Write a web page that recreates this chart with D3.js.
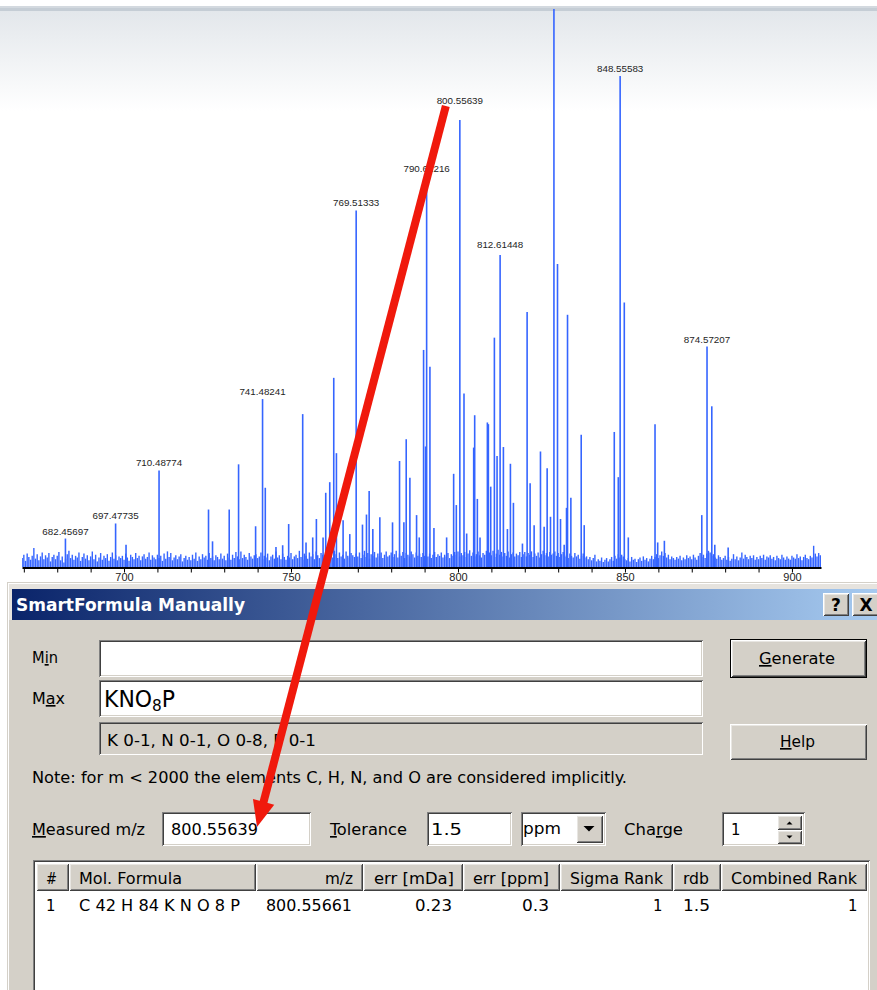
<!DOCTYPE html>
<html>
<head>
<meta charset="utf-8">
<script src="https://cdn.jsdelivr.net/npm/d3@7"></script>
<style>
  html, body { margin: 0; padding: 0; background: #fff; overflow: hidden; }
  svg { display: block; }
</style>
</head>
<body>
<svg id="view" width="877" height="990"></svg>
<script>
// ---------- spectrum data (m/z, relative intensity %) ----------
const peakMz = [682.45697, 697.47735, 700.6, 710.48774, 725.3, 726.5, 731.5, 734.3, 739.4, 741.48241,
  742.3, 745.5, 747.5, 749.3, 753.5, 754.5, 756.5, 757.6, 759.6, 760.4,
  761.6, 762.8, 763.6, 765.6, 767.6, 769.51333, 771.4, 772.6, 773.4, 774.5,
  776.6, 780.4, 782.5, 783.8, 784.5, 785.6, 787.6, 788.4, 789.7, 790.3,
  790.61216, 791.6, 792.8, 796.6, 798.7, 799.5, 800.55639, 801.8, 802.6, 804.7,
  805.0, 805.8, 806.6, 808.8, 809.1, 809.8, 810.9, 811.7, 812.61448, 813.6,
  814.8, 815.7, 816.6, 819.3, 820.7, 821.6, 822.8, 824.7, 825.8, 826.7,
  827.7, 828.73, 829.8, 830.7, 831.8, 832.5, 832.8, 833.8, 836.9, 837.8,
  846.8, 848.0, 848.55583, 849.8, 851.0, 859.0, 859.8, 861.8, 873.0, 874.57207,
  876.0, 876.9, 880.9];
const peakIntensity = [5.1, 7.8, 4.0, 17.3, 10.3, 4.6, 10.3, 18.4, 7.3, 30.1,
  14.2, 3.6, 3.9, 7.7, 27.4, 4.4, 5.3, 8.6, 5.3, 13.3,
  15.2, 33.9, 20.4, 8.4, 5.9, 63.9, 7.6, 9.4, 13.6, 6.8,
  8.9, 8.0, 19.0, 8.0, 22.9, 16.0, 9.3, 5.3, 38.9, 21.6,
  69.4, 35.9, 7.0, 5.3, 16.7, 11.1, 80.1, 31.1, 6.0, 21.4,
  27.2, 12.2, 5.3, 25.9, 25.6, 14.4, 41.1, 19.9, 55.9, 21.5,
  6.8, 18.5, 11.5, 4.2, 45.7, 15.0, 7.5, 20.7, 7.2, 17.7,
  9.0, 100, 54.3, 8.6, 4.0, 10.6, 45.2, 12.4, 23.7, 7.5,
  24.2, 16.1, 88.0, 47.4, 5.3, 25.6, 4.4, 4.7, 9.3, 39.5,
  28.8, 4.0, 3.5];

// annotated peaks (label text = m/z with 5 decimals)
const labeledMz = [682.45697, 697.47735, 710.48774, 741.48241, 769.51333,
  790.61216, 800.55639, 812.61448, 848.55583, 874.57207];

// baseline noise, one value every 0.5 m/z starting at 669.5
const noiseStart = 669.5;
const noiseStep = 0.5;
const noiseIntensity = [
  1.6,2.2,1.1,2.4,1.8,1.3,2.0,3.4,1.5,2.3,1.2,1.9,2.6,1.4,2.1,1.7,2.5,1.0,1.8,2.2,
  1.4,2.0,2.7,1.2,1.9,0.8,1.5,2.3,2.9,1.6,2.2,1.3,2.0,1.7,2.6,1.1,1.8,2.4,1.5,2.1,
  1.2,1.9,2.8,1.4,2.2,1.0,1.7,2.5,1.3,2.0,1.6,2.3,1.1,1.8,2.6,1.5,2.1,1.2,1.9,1.6,
  2.0,1.3,2.4,1.7,1.1,2.2,1.8,1.4,2.5,1.6,2.0,1.2,1.9,2.3,1.5,1.8,2.6,1.3,2.1,1.7,
  1.4,2.2,1.6,2.0,1.1,2.4,1.5,2.8,1.8,2.5,1.2,1.7,2.1,1.4,1.9,2.3,1.0,1.6,2.0,1.3,
  1.8,1.2,2.2,1.5,2.6,1.1,1.9,1.4,2.3,1.7,2.0,1.3,2.5,1.6,1.9,1.2,2.1,1.8,1.4,2.4,
  1.5,2.0,1.2,2.4,1.7,1.3,2.2,1.6,2.7,1.9,1.4,2.8,1.6,2.2,1.8,1.3,2.5,1.9,1.5,2.1,
  2.3,1.6,1.9,2.6,1.4,2.0,1.7,2.4,1.2,1.9,2.2,1.5,2.8,1.7,2.1,1.4,2.4,1.8,1.3,2.0,
  1.7,2.5,1.4,1.9,2.2,1.6,2.9,1.8,1.3,2.4,2.0,1.5,2.6,1.9,2.3,1.4,2.8,2.1,1.6,2.5,
  2.2,1.8,2.7,1.5,2.4,2.0,1.7,2.9,2.3,1.6,2.6,1.9,2.2,1.5,2.8,2.0,1.7,2.5,2.1,1.8,
  2.4,1.9,2.6,1.6,2.2,2.9,1.8,2.5,1.5,2.3,2.0,2.7,1.7,2.4,1.9,2.6,1.6,2.2,2.8,1.9,
  2.1,2.6,1.8,2.3,2.9,1.7,2.4,2.0,2.7,1.6,2.5,2.2,1.9,2.8,2.3,1.7,2.6,2.0,2.4,1.8,
  2.5,2.0,2.8,1.9,2.4,1.6,2.2,2.7,1.8,2.3,2.0,2.6,1.7,2.2,1.9,2.5,1.6,2.3,2.0,2.7,
  2.2,2.8,1.9,2.5,2.1,2.7,1.8,2.4,3.0,2.0,2.6,1.9,2.3,2.8,2.1,1.7,2.5,2.2,2.9,2.0,
  2.6,2.1,2.9,1.8,2.4,3.1,2.2,2.7,1.9,2.5,2.0,2.8,1.7,2.3,2.6,1.9,2.4,2.1,2.7,1.8,
  2.3,2.7,1.9,2.5,2.2,2.8,1.8,2.4,2.0,2.6,1.7,2.3,2.9,2.1,2.5,1.9,2.7,2.2,2.4,2.8,
  2.0,2.5,1.8,2.3,2.7,1.9,2.2,1.6,2.4,2.0,1.7,2.5,1.9,2.2,1.5,2.0,2.4,1.7,1.9,1.4,
  1.8,1.2,1.6,2.2,1.0,1.4,1.1,1.7,0.9,1.3,1.6,1.0,1.4,1.8,1.1,2.0,1.5,2.3,1.7,2.2,
  1.9,1.4,1.2,1.6,1.0,1.8,1.3,1.5,0.9,1.4,1.7,1.1,1.9,1.3,1.6,1.0,1.5,2.0,1.4,1.8,
  2.3,1.6,2.1,2.8,2.0,2.5,1.7,2.2,1.4,1.9,1.6,1.3,1.8,1.5,2.0,1.2,1.7,1.4,2.1,1.6,
  1.9,1.4,2.2,1.7,1.3,2.0,2.5,1.8,2.2,1.6,2.4,2.9,2.6,2.0,2.3,1.7,1.5,2.1,1.8,1.3,
  1.6,2.0,1.3,1.8,1.1,1.5,2.3,1.4,1.9,1.2,1.7,2.6,1.5,2.2,1.8,1.4,2.0,1.6,2.1,1.3,
  1.8,1.4,2.0,1.6,2.2,1.3,1.9,1.7,2.1,1.5,1.8,1.2,2.0,1.6,1.4,2.2,1.7,1.3,1.9,1.5,
  1.3,2.0,1.7,1.5,2.3,1.6,1.9,1.2,1.8,2.2,1.6,1.4,2.0,1.7,3.8,2.4,1.9,2.5,2.1,1.8
];

// axis ticks
const majorTicks = [700, 750, 800, 850, 900];
const minorTicks = [670, 680, 690, 700, 710, 720, 730, 740, 750, 760, 770, 780, 790,
  800, 810, 820, 830, 840, 850, 860, 870, 880, 890, 900];

// ---------- SmartFormula dialog content ----------
const dialogTitle = "SmartFormula Manually";
const maxFormulaParts = ["KNO", "8", "P"];
const elementRanges = "K 0-1, N 0-1, O 0-8, P 0-1";
const noteText = "Note: for m < 2000 the elements C, H, N, and O are considered implicitly.";
const selectedMz = 800.55639;
const toleranceValue = "1.5";
const toleranceUnit = "ppm";
const chargeValue = "1";
const resultColumns = ["#", "Mol. Formula", "m/z", "err [mDa]", "err [ppm]", "Sigma Rank", "rdb", "Combined Rank"];
const resultRow = ["1", "C 42 H 84 K N O 8 P", "800.55661", "0.23", "0.3", "1", "1.5", "1"];

// ---------- drawing ----------
const W = 877, H = 990;
const svg = d3.select("#view");
const fmt5 = d3.format(".5f");
const UI_FONT = "'DejaVu Sans Condensed', 'DejaVu Sans', Tahoma, sans-serif";
const CHART_FONT = "'Liberation Sans', Arial, sans-serif";
const BLUE = "#3565ff";

const defs = svg.append("defs");
const fade = defs.append("linearGradient").attr("id", "topFade")
  .attr("x1", 0).attr("y1", 0).attr("x2", 0).attr("y2", 1);
fade.append("stop").attr("offset", 0).attr("stop-color", "#e3e7eb");
fade.append("stop").attr("offset", 1).attr("stop-color", "#ffffff");
const tg = defs.append("linearGradient").attr("id", "titleGrad")
  .attr("x1", 0).attr("y1", 0).attr("x2", 1).attr("y2", 0);
tg.append("stop").attr("offset", 0).attr("stop-color", "#0a246a");
tg.append("stop").attr("offset", 1).attr("stop-color", "#a6caf0");
defs.append("clipPath").attr("id", "plotClip")
  .append("rect").attr("x", 22).attr("y", 0).attr("width", 799).attr("height", 567);

svg.append("rect").attr("width", W).attr("height", H).attr("fill", "#fff");
svg.append("rect").attr("x", 0).attr("y", 6).attr("width", W).attr("height", 2).attr("fill", "#d3d9df");
svg.append("rect").attr("x", 0).attr("y", 8).attr("width", W).attr("height", 3).attr("fill", "#c5cdd5");
svg.append("rect").attr("x", 0).attr("y", 11).attr("width", W).attr("height", 100).attr("fill", "url(#topFade)");

// scales
const x = d3.scaleLinear().domain([669.45, 908.7]).range([22, 821]);
const y = d3.scaleLinear().domain([0, 100]).range([567, 9]);

const plot = svg.append("g").attr("clip-path", "url(#plotClip)");

plot.append("g").selectAll("line")
  .data(noiseIntensity)
  .join("line")
  .attr("x1", (d, i) => x(noiseStart + i * noiseStep))
  .attr("x2", (d, i) => x(noiseStart + i * noiseStep))
  .attr("y1", y(0))
  .attr("y2", d => y(d))
  .attr("stroke", BLUE)
  .attr("stroke-width", 1.4);

const peaks = peakMz.map((m, i) => ({ m, v: peakIntensity[i] }));
plot.append("g").selectAll("line")
  .data(peaks)
  .join("line")
  .attr("x1", d => x(d.m)).attr("x2", d => x(d.m))
  .attr("y1", y(0)).attr("y2", d => y(d.v))
  .attr("stroke", BLUE)
  .attr("stroke-width", 1.6);

// peak annotations
const labelGap = 4;
const labelLift = { 800.55639: 12, 812.61448: 3, 790.61216: 4 };
const labelBaseline = m => y(peakIntensity[peakMz.indexOf(m)]) - labelGap - (labelLift[m] || 0);
svg.append("g").selectAll("text")
  .data(labeledMz)
  .join("text")
  .attr("x", m => x(m))
  .attr("y", m => labelBaseline(m))
  .attr("text-anchor", "middle")
  .attr("font-family", CHART_FONT)
  .attr("font-size", 9.8)
  .attr("fill", "#1e1e1e")
  .text(m => fmt5(m));

// x axis
const xAxis = d3.axisBottom(x)
  .tickValues(minorTicks)
  .tickSize(5)
  .tickSizeOuter(0)
  .tickPadding(1)
  .tickFormat(d => majorTicks.includes(d) ? d3.format("d")(d) : "");
svg.append("g")
  .attr("transform", "translate(0,567.5)")
  .call(xAxis)
  .call(g => g.select(".domain").attr("stroke", "#000").attr("stroke-width", 2))
  .call(g => g.selectAll(".tick line").attr("stroke", "#000").attr("stroke-width", 1))
  .call(g => g.selectAll(".tick text").attr("font-family", CHART_FONT).attr("font-size", 11).attr("fill", "#222"));

// ---------- dialog helpers ----------
function edge(g, x0, y0, w, h, tl, br) {
  g.append("path").attr("d", `M${x0 + 0.5},${y0 + h - 0.5}V${y0 + 0.5}H${x0 + w - 0.5}`)
    .attr("stroke", tl).attr("fill", "none").attr("shape-rendering", "crispEdges");
  g.append("path").attr("d", `M${x0 + 0.5},${y0 + h - 0.5}H${x0 + w - 0.5}V${y0 + 0.5}`)
    .attr("stroke", br).attr("fill", "none").attr("shape-rendering", "crispEdges");
}
function sunken(g, x0, y0, w, h, fill) {
  g.append("rect").attr("x", x0).attr("y", y0).attr("width", w).attr("height", h).attr("fill", fill);
  edge(g, x0, y0, w, h, "#808080", "#ffffff");
  edge(g, x0 + 1, y0 + 1, w - 2, h - 2, "#404040", "#d4d0c8");
}
function raised(g, x0, y0, w, h) {
  g.append("rect").attr("x", x0).attr("y", y0).attr("width", w).attr("height", h).attr("fill", "#d4d0c8");
  edge(g, x0, y0, w, h, "#ffffff", "#404040");
  edge(g, x0 + 1, y0 + 1, w - 2, h - 2, "#e8e6e2", "#808080");
}
function label(g, s, x0, yb, o = {}) {
  const t = g.append("text").attr("x", x0).attr("y", yb)
    .attr("font-family", o.family || UI_FONT)
    .attr("font-size", o.size || 16.5)
    .attr("fill", o.fill || "#000");
  if (o.weight) t.attr("font-weight", o.weight);
  if (o.anchor) t.attr("text-anchor", o.anchor);
  if (o.key != null) {
    t.append("tspan").text(s.slice(0, o.key));
    t.append("tspan").style("text-decoration", "underline").text(s[o.key]);
    t.append("tspan").text(s.slice(o.key + 1));
  } else {
    t.text(s);
  }
  if (o.w) t.attr("textLength", o.w).attr("lengthAdjust", "spacingAndGlyphs");
  return t;
}

// ---------- dialog ----------
const dlg = svg.append("g");
dlg.append("rect").attr("x", 7).attr("y", 582).attr("width", 880).attr("height", 420).attr("fill", "#d4d0c8");
edge(dlg, 7, 582, 880, 420, "#d4d0c8", "#404040");
edge(dlg, 8, 583, 878, 418, "#ffffff", "#808080");
dlg.append("rect").attr("x", 9).attr("y", 584).attr("width", 878).attr("height", 5).attr("fill", "#e6e3de");
dlg.append("rect").attr("x", 9).attr("y", 584).attr("width", 3).attr("height", 36).attr("fill", "#e6e3de");

// title bar
dlg.append("rect").attr("x", 12).attr("y", 589).attr("width", 865).attr("height", 31).attr("fill", "url(#titleGrad)");
label(dlg, dialogTitle, 16, 611, { weight: "bold", size: 17, fill: "#ffffff", w: 229, family: "'DejaVu Sans', sans-serif" });

raised(dlg, 823, 593, 26, 23);
label(dlg, "?", 836, 611, { weight: "bold", size: 17, anchor: "middle", family: "'DejaVu Sans', sans-serif" });
raised(dlg, 852, 593, 27, 23);
label(dlg, "X", 866, 611, { weight: "bold", size: 17, anchor: "middle", family: "'DejaVu Sans', sans-serif" });

// Min / Max rows
label(dlg, "Min", 32, 663, { key: 1, w: 26 });
sunken(dlg, 99, 640, 604, 37, "#ffffff");
label(dlg, "Max", 32, 704, { key: 1, w: 33 });
sunken(dlg, 99, 680, 604, 37, "#ffffff");
{
  const t = dlg.append("text").attr("x", 104).attr("y", 707)
    .attr("font-family", UI_FONT).attr("font-size", 23).attr("fill", "#000");
  t.append("tspan").text(maxFormulaParts[0]);
  t.append("tspan").attr("font-size", 16).attr("dy", 4).text(maxFormulaParts[1]);
  t.append("tspan").attr("dy", -4).text(maxFormulaParts[2]);
  t.attr("textLength", 71).attr("lengthAdjust", "spacingAndGlyphs");
}
sunken(dlg, 99, 722, 604, 33, "#d4d0c8");
label(dlg, elementRanges, 107, 746, { w: 209 });

// buttons
dlg.append("rect").attr("x", 730).attr("y", 639).attr("width", 137).attr("height", 39).attr("fill", "#000");
raised(dlg, 731, 640, 135, 37);
label(dlg, "Generate", 759, 664, { key: 0, w: 76 });
raised(dlg, 730, 724, 137, 36);
label(dlg, "Help", 780, 747, { key: 0, w: 35 });

// note
label(dlg, noteText, 32, 783, { w: 595 });

// measured m/z / tolerance / charge row
const measuredText = { x: 171, y: 835, w: 87 };
label(dlg, "Measured m/z", 32, 835, { key: 0, w: 113 });
sunken(dlg, 162, 812, 149, 34, "#ffffff");
label(dlg, fmt5(selectedMz), measuredText.x, measuredText.y, { w: measuredText.w });

label(dlg, "Tolerance", 330, 835, { key: 0, w: 77 });
sunken(dlg, 427, 812, 85, 34, "#ffffff");
label(dlg, toleranceValue, 431, 835, { w: 31 });

sunken(dlg, 521, 812, 85, 34, "#ffffff");
label(dlg, toleranceUnit, 523, 834, { w: 38 });
raised(dlg, 576, 815, 27, 28);
dlg.append("path").attr("d", "M583.5,826H594.5L589,831.5Z").attr("fill", "#000");

label(dlg, "Charge", 624, 835, { key: 3, w: 59 });
sunken(dlg, 722, 812, 83, 34, "#ffffff");
label(dlg, chargeValue, 731, 835);
raised(dlg, 777, 815, 25, 15);
raised(dlg, 777, 830, 25, 14);
dlg.append("path").attr("d", "M786.5,824.5H792.5L789.5,821.5Z").attr("fill", "#000");
dlg.append("path").attr("d", "M786.5,835.5H792.5L789.5,838.5Z").attr("fill", "#000");

// results table
sunken(dlg, 33, 860, 837, 140, "#ffffff");
const colEdges = [36, 69, 256, 363, 463, 560, 673, 721, 867];
const headTextX = [46, 79, 325, 374, 473, 570, 683, 731];
const headTextW = [11, 103, 28, 80, 76, 93, 26, 126];
const rowTextX = [46, 79, 266, 415, 522, 653, 683, 848];
const rowTextW = [null, 161, 86, 37, 27, null, 27, null];
resultColumns.forEach((c, i) => {
  raised(dlg, colEdges[i], 863, colEdges[i + 1] - colEdges[i], 28);
  label(dlg, c, headTextX[i], 884, { w: headTextW[i] });
});
resultRow.forEach((v, i) => {
  label(dlg, v, rowTextX[i], 911, { w: rowTextW[i] });
});

// ---------- red pointer from the annotated peak to the measured m/z field ----------
const p0 = [x(selectedMz) - 14, labelBaseline(selectedMz) + 2];
const tip = [measuredText.x + measuredText.w - 1, measuredText.y - 8];
const dx = tip[0] - p0[0], dy = tip[1] - p0[1];
const len = Math.hypot(dx, dy);
const ux = dx / len, uy = dy / len;
const headLen = 26, headHalf = 11;
const base = [tip[0] - ux * headLen, tip[1] - uy * headLen];
svg.append("line")
  .attr("x1", p0[0]).attr("y1", p0[1])
  .attr("x2", base[0] + ux * 2).attr("y2", base[1] + uy * 2)
  .attr("stroke", "#f0190c").attr("stroke-width", 8);
svg.append("path")
  .attr("d", `M${tip[0]},${tip[1]}L${base[0] - uy * headHalf},${base[1] + ux * headHalf}L${base[0] + uy * headHalf},${base[1] - ux * headHalf}Z`)
  .attr("fill", "#f0190c");
</script>
</body>
</html>
